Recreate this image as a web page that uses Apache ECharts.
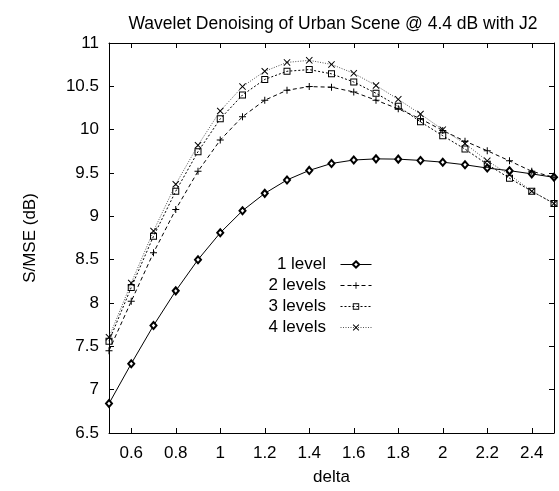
<!DOCTYPE html>
<html>
<head>
<meta charset="utf-8">
<script src="https://cdn.jsdelivr.net/npm/echarts@6/dist/echarts.min.js"></script>
<style>
html,body{margin:0;padding:0;background:#fff;}
#chart{width:559px;height:491px;}
</style>
</head>
<body>
<div id="chart"></div>
<script>
var titleText = 'Wavelet Denoising of Urban Scene @ 4.4 dB with J2';
var xName = 'delta';
var yName = 'S/MSE (dB)';
var seriesNames = ['1 level', '2 levels', '3 levels', '4 levels'];
var delta = [0.5,0.6,0.7,0.8,0.9,1.0,1.1,1.2,1.3,1.4,1.5,1.6,1.7,1.8,1.9,2.0,2.1,2.2,2.3,2.4,2.5];
var level1 = [6.84,7.30,7.74,8.14,8.50,8.81,9.065,9.265,9.42,9.53,9.61,9.65,9.663,9.66,9.645,9.625,9.595,9.557,9.527,9.49,9.45];
var level2 = [7.45,8.02,8.58,9.08,9.52,9.88,10.15,10.34,10.455,10.497,10.49,10.435,10.34,10.24,10.125,9.99,9.867,9.757,9.64,9.52,9.45];
var level3 = [7.56,8.18,8.77,9.29,9.746,10.125,10.40,10.58,10.674,10.693,10.644,10.55,10.42,10.27,10.09,9.93,9.776,9.60,9.44,9.29,9.148];
var level4 = [7.605,8.23,8.83,9.37,9.82,10.216,10.497,10.674,10.776,10.80,10.753,10.65,10.51,10.35,10.18,10.0,9.84,9.64,9.48,9.29,9.148];
var xTicks = [0.6,0.8,1.0,1.2,1.4,1.6,1.8,2.0,2.2,2.4];
var xTickLabels = ['0.6','0.8','1','1.2','1.4','1.6','1.8','2','2.2','2.4'];

var FONT = '"Liberation Sans", Arial, Helvetica, sans-serif';
function pairs(ys){ return delta.map(function(x,i){ return [x, ys[i]]; }); }

var plusPath = 'path://M3,0H4V3H7V4H4V7H3V4H0V3H3Z';
var crossPath = 'path://M0,0.7L0.7,0L3.5,2.8L6.3,0L7,0.7L4.2,3.5L7,6.3L6.3,7L3.5,4.2L0.7,7L0,6.3L2.8,3.5Z';
var boxPath = 'path://M0,0H7V7H0Z M1,1V6H6V1Z';

var chart = echarts.init(document.getElementById('chart'), null, {renderer:'canvas'});
var axisLineStyle = {color:'#000', width:1};
var option = {
  animation:false,
  backgroundColor:'#fff',
  textStyle:{fontFamily:FONT},
  title:{text:titleText, left:328, textAlign:'center', top:10,
    textStyle:{fontFamily:FONT, fontSize:17.5, fontWeight:'normal', color:'#000'}},
  grid:{left:109, right:5, top:43, bottom:52, containLabel:false},
  legend:{
    orient:'vertical', align:'right', right:182, top:251,
    itemWidth:31, itemHeight:8, itemGap:4,
    formatter:function(n){ return n + '  '; },
    lineStyle:{width:1},
    itemStyle:{borderWidth:1},
    textStyle:{fontFamily:FONT, fontSize:17, color:'#000', lineHeight:17},
    data:seriesNames
  },
  xAxis:[{
    type:'value', min:0.5, max:2.5, position:'bottom',
    name:xName, nameLocation:'middle', nameGap:36,
    nameTextStyle:{fontFamily:FONT, fontSize:17, color:'#000'},
    axisLine:{show:true, lineStyle:axisLineStyle},
    axisTick:{show:true, inside:true, length:5, customValues:xTicks, lineStyle:axisLineStyle},
    axisLabel:{show:true, customValues:xTicks, margin:12, fontFamily:FONT, fontSize:17, color:'#000',
      formatter:function(v){ var i = xTicks.indexOf(Math.round(v*10)/10); return i>=0 ? xTickLabels[i] : ''; }},
    splitLine:{show:false}
  },{
    type:'value', min:0.5, max:2.5, position:'top',
    axisLine:{show:true, lineStyle:axisLineStyle},
    axisTick:{show:true, inside:true, length:5, customValues:xTicks, lineStyle:axisLineStyle},
    axisLabel:{show:false}, splitLine:{show:false}
  }],
  yAxis:[{
    type:'value', min:6.5, max:11, interval:0.5, position:'left',
    name:yName, nameLocation:'middle', nameGap:70, nameRotate:90,
    nameTextStyle:{fontFamily:FONT, fontSize:17, color:'#000'},
    axisLine:{show:true, lineStyle:axisLineStyle},
    axisTick:{show:true, inside:true, length:5, lineStyle:axisLineStyle},
    axisLabel:{show:true, margin:10, fontFamily:FONT, fontSize:17, color:'#000'},
    splitLine:{show:false}
  },{
    type:'value', min:6.5, max:11, interval:0.5, position:'right',
    axisLine:{show:true, lineStyle:axisLineStyle},
    axisTick:{show:true, inside:true, length:5, lineStyle:axisLineStyle},
    axisLabel:{show:false}, splitLine:{show:false}
  }],
  series:[
    {name:seriesNames[0], type:'line', data:pairs(level1), symbol:'emptyDiamond', symbolSize:[6,7],
     itemStyle:{color:'#000', borderWidth:1}, lineStyle:{color:'#000', width:1, type:'solid'}},
    {name:seriesNames[1], type:'line', data:pairs(level2), symbol:plusPath, symbolSize:7,
     itemStyle:{color:'#000', borderWidth:0}, lineStyle:{color:'#000', width:1, type:[4,3]}},
    {name:seriesNames[2], type:'line', data:pairs(level3), symbol:boxPath, symbolSize:7,
     itemStyle:{color:'#000', borderWidth:0}, lineStyle:{color:'#000', width:1, type:[2,2]}},
    {name:seriesNames[3], type:'line', data:pairs(level4), symbol:crossPath, symbolSize:7,
     itemStyle:{color:'#000', borderWidth:0}, lineStyle:{color:'#555', width:1, type:[1,1.5]}}
  ]
};
chart.setOption(option);
</script>
</body>
</html>
